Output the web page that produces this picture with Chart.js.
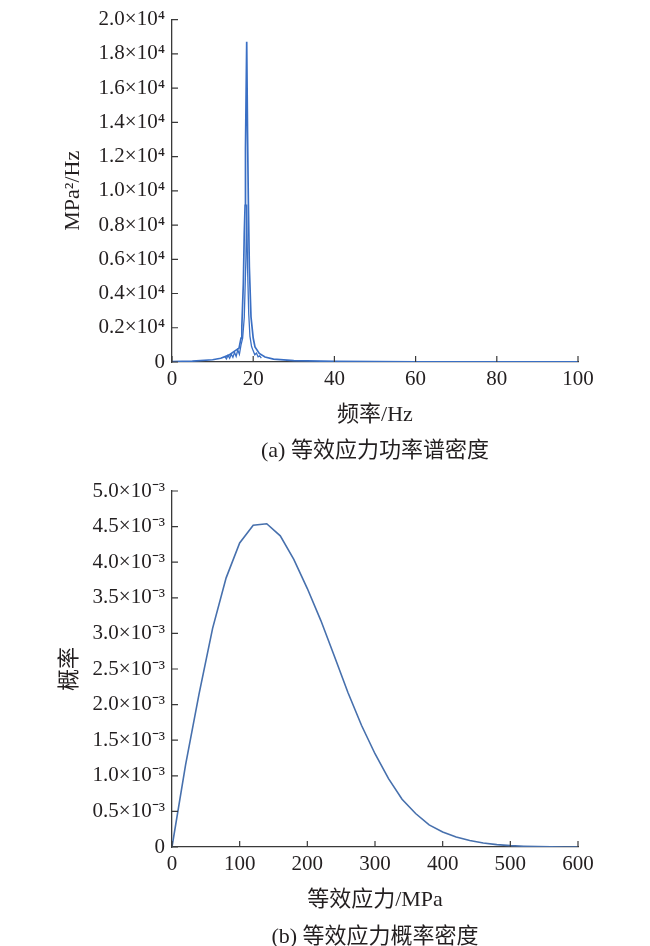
<!DOCTYPE html>
<html>
<head>
<meta charset="utf-8">
<script src="https://cdn.jsdelivr.net/npm/chart.js@4.4.0/dist/chart.umd.min.js"></script>
<style>
    body { margin: 0; background: #fff; width: 650px; height: 946px; position: relative; overflow: hidden; }
    canvas { position: absolute; left: 0; }
    .cap { position: absolute; left: 175px; width: 400px; text-align: center; line-height: 24px;
           font: 22px 'Liberation Serif', 'Noto Sans CJK SC', serif; color: #231f20; }
</style>
</head>
<body>
<canvas id="psdChart" width="650" height="440" style="top:0"></canvas>
<canvas id="pdfChart" width="650" height="450" style="top:470px"></canvas>
<div class="cap" style="top:431px">(a) 等效应力功率谱密度</div>
<div class="cap" style="top:917px">(b) 等效应力概率密度</div>
<script>
// (a) power spectral density, outer envelope
const psdFreq = [0, 5, 10, 12, 14, 15.5, 16.5, 17, 17.2, 17.57, 17.8, 18, 18.1, 18.4, 18.6, 18.8, 19.05, 19.46, 20, 20.44, 21.5, 22.9, 25, 30, 40, 50, 60, 80, 100]
const psdValue = [20, 50, 130, 220, 400, 650, 800, 1400, 2050, 4580, 7500, 9150, 12500, 18700, 13500, 9460, 5560, 2630, 1400, 877, 500, 290, 170, 80, 35, 20, 12, 6, 4]
// (a) inner jagged trace
const psdInnerFreq = [13, 13.4, 13.8, 14.2, 14.6, 15, 15.4, 15.8, 16.2, 16.6, 17, 17.4, 17.8, 18.2, 18.4, 18.6, 18.9, 19.2, 19.6, 20, 20.4, 20.8, 21.2, 21.6, 22]
const psdInnerValue = [330, 180, 380, 220, 450, 270, 560, 330, 700, 450, 1000, 1400, 2600, 6000, 9200, 5600, 2800, 1500, 900, 650, 420, 520, 300, 360, 230]
const psdYTicks = ['0', '0.2×10⁴', '0.4×10⁴', '0.6×10⁴', '0.8×10⁴', '1.0×10⁴', '1.2×10⁴', '1.4×10⁴', '1.6×10⁴', '1.8×10⁴', '2.0×10⁴']
const psdXTicks = ['0', '20', '40', '60', '80', '100']

// (b) probability density of equivalent stress
const stress = [0, 20, 40, 60, 80, 100, 120, 140, 160, 180, 200, 220, 240, 260, 280, 300, 320, 340, 360, 380, 400, 420, 440, 460, 480, 500, 520, 540, 560, 580, 600]
const probability = [0, 1.15e-3, 2.15e-3, 3.07e-3, 3.78e-3, 4.27e-3, 4.52e-3, 4.54e-3, 4.37e-3, 4.04e-3, 3.63e-3, 3.18e-3, 2.68e-3, 2.17e-3, 1.71e-3, 1.31e-3, 0.96e-3, 0.67e-3, 0.47e-3, 0.31e-3, 0.21e-3, 0.14e-3, 0.09e-3, 0.056e-3, 0.033e-3, 0.019e-3, 0.010e-3, 0.005e-3, 0.002e-3, 0.001e-3, 0.0004e-3]
const pdfYTicks = ['0', '0.5×10⁻³', '1.0×10⁻³', '1.5×10⁻³', '2.0×10⁻³', '2.5×10⁻³', '3.0×10⁻³', '3.5×10⁻³', '4.0×10⁻³', '4.5×10⁻³', '5.0×10⁻³']
const pdfXTicks = ['0', '100', '200', '300', '400', '500', '600']

const serif = "'Liberation Serif', 'Noto Sans CJK SC', serif"
const textColor = '#231f20'
const axisColor = '#3a3a3a'

// ticks drawn inward from the axes
const inwardTicks = {
    id: 'inwardTicks',
    afterDraw(chart) {
        const { ctx, chartArea, scales } = chart
        ctx.save()
        ctx.strokeStyle = axisColor
        ctx.lineWidth = 1.2
        ctx.beginPath()
        scales.x.ticks.forEach(t => {
            const px = scales.x.getPixelForValue(t.value)
            ctx.moveTo(px, chartArea.bottom)
            ctx.lineTo(px, chartArea.bottom - 6)
        })
        scales.y.ticks.forEach(t => {
            const py = scales.y.getPixelForValue(t.value)
            ctx.moveTo(chartArea.left, py)
            ctx.lineTo(chartArea.left + 6, py)
        })
        ctx.stroke()
        ctx.restore()
    }
}

const toPoints = (xs, ys) => xs.map((x, i) => ({ x: x, y: ys[i] }))

const axisBase = (labels, titleText, titlePadding) => ({
    grid: { drawOnChartArea: false, drawTicks: false },
    border: { display: true, color: axisColor, width: 1.3 },
    ticks: {
        color: textColor,
        font: { family: serif, size: 21 },
        callback: (v, i) => labels[i]
    },
    title: {
        display: true,
        text: titleText,
        color: textColor,
        font: { family: serif, size: 22 },
        padding: titlePadding
    }
})

const makeChart = (id, datasets, cfg) => {
    const xAxis = axisBase(cfg.xLabels, cfg.xTitle, { top: 0, bottom: cfg.xTitlePad })
    Object.assign(xAxis, { type: 'linear', min: cfg.xMin, max: cfg.xMax, afterFit: s => { s.height = cfg.xHeight } })
    xAxis.ticks.stepSize = cfg.xStep
    xAxis.ticks.padding = 5
    xAxis.ticks.maxRotation = 0

    const yAxis = axisBase(cfg.yLabels, cfg.yTitle, { top: cfg.yTitlePad, bottom: 0 })
    Object.assign(yAxis, { min: cfg.yMin, max: cfg.yMax, afterFit: s => { s.width = 172 } })
    yAxis.ticks.stepSize = cfg.yStep
    yAxis.ticks.padding = 7

    new Chart(document.getElementById(id).getContext('2d'), {
        type: 'line',
        data: { datasets: datasets },
        options: {
            responsive: false,
            animation: false,
            layout: { padding: { top: cfg.padTop, right: 72, left: 0, bottom: 0 } },
            elements: { point: { radius: 0 }, line: { tension: 0 } },
            plugins: { legend: { display: false }, tooltip: { enabled: false } },
            scales: { x: xAxis, y: yAxis }
        },
        plugins: [inwardTicks]
    })
}

makeChart('psdChart', [
    { data: toPoints(psdFreq, psdValue), borderColor: '#3a6fc4', borderWidth: 1.7 },
    { data: toPoints(psdInnerFreq, psdInnerValue), borderColor: '#3a6fc4', borderWidth: 1.3 }
], {
    xMin: 0, xMax: 100, xStep: 20, xLabels: psdXTicks, xTitle: '频率/Hz', xTitlePad: 12, xHeight: 78,
    yMin: 0, yMax: 20000, yStep: 2000, yLabels: psdYTicks, yTitle: 'MPa²/Hz', yTitlePad: 60,
    padTop: 19
})

makeChart('pdfChart', [
    { data: toPoints(stress, probability), borderColor: '#4770ad', borderWidth: 1.6 }
], {
    xMin: 0, xMax: 600, xStep: 100, xLabels: pdfXTicks, xTitle: '等效应力/MPa', xTitlePad: 7, xHeight: 73,
    yMin: 0, yMax: 0.005, yStep: 0.0005, yLabels: pdfYTicks, yTitle: '概率', yTitlePad: 57,
    padTop: 21
})
</script>
</body>
</html>
